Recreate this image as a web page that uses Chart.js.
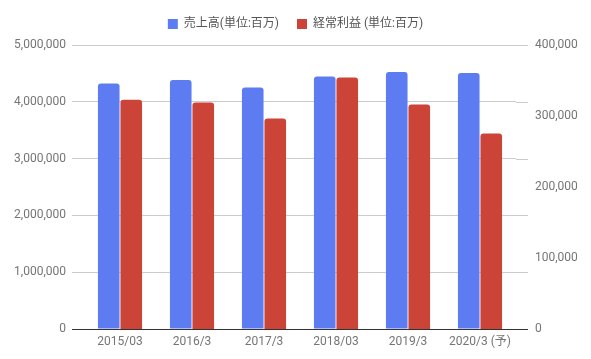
<!DOCTYPE html>
<html>
<head>
<meta charset="utf-8">
<script src="https://cdn.jsdelivr.net/npm/chart.js@4"></script>
<style>
  html, body { margin: 0; padding: 0; background: #fff; }
  #wrap { width: 591px; height: 359px; }
</style>
</head>
<body>
<div id="wrap"><canvas id="chart" width="591" height="359"></canvas></div>
<script>
// --- data ---
const categories = ['2015/03', '2016/3', '2017/3', '2018/03', '2019/3', '2020/3 (予)'];
const salesLabel = '売上高(単位:百万)';
const profitLabel = '経常利益 (単位:百万)';
const sales = [4320000, 4386000, 4250000, 4444000, 4526000, 4509000];
const profit = [322800, 319000, 296600, 354100, 316200, 275500];

const blue = '#5E7CF1';
const red = '#CC4338';
const gridGray = '#cccccc';
const baseDark = '#333333';
const textGray = '#757575';

Chart.defaults.font.family = 'Roboto, "Noto Sans CJK JP", sans-serif';
Chart.defaults.font.size = 12;
Chart.defaults.color = textGray;

// gridlines run a bit past the plot on the right, and the zero line sits on top of the bars
const gridExtras = {
    id: 'gridExtras',
    beforeDatasetsDraw(chart) {
        const { ctx, chartArea, scales } = chart;
        const y = scales.y;
        ctx.save();
        ctx.lineWidth = 1;
        ctx.strokeStyle = gridGray;
        y.ticks.forEach(t => {
            if (t.value === 0) return;
            const py = Math.round(y.getPixelForValue(t.value)) + 0.5;
            ctx.beginPath();
            ctx.moveTo(chartArea.right, py);
            ctx.lineTo(chartArea.right + 12, py);
            ctx.stroke();
        });
        ctx.restore();
    },
    afterDatasetsDraw(chart) {
        const { ctx, chartArea, scales } = chart;
        const py = Math.round(scales.y.getPixelForValue(0)) + 0.5;
        ctx.save();
        ctx.lineWidth = 1;
        ctx.strokeStyle = baseDark;
        ctx.beginPath();
        ctx.moveTo(chartArea.left - 12, py);
        ctx.lineTo(chartArea.right + 12, py);
        ctx.stroke();
        ctx.restore();
    }
};

const fmt = v => Number(v).toLocaleString('en-US');

new Chart(document.getElementById('chart'), {
    type: 'bar',
    data: {
        labels: categories,
        datasets: [
            {
                label: salesLabel,
                data: sales,
                backgroundColor: blue,
                yAxisID: 'y',
                borderRadius: 3,
                categoryPercentage: 0.625,
                barPercentage: 0.96
            },
            {
                label: profitLabel,
                data: profit,
                backgroundColor: red,
                yAxisID: 'y1',
                borderRadius: 3,
                categoryPercentage: 0.625,
                barPercentage: 0.96
            }
        ]
    },
    options: {
        responsive: false,
        animation: false,
        layout: { padding: 0 },
        plugins: {
            legend: {
                position: 'top',
                labels: {
                    boxWidth: 10,
                    boxHeight: 10,
                    padding: 18,
                    color: '#555555',
                    font: { size: 12 }
                }
            },
            tooltip: { enabled: false }
        },
        scales: {
            x: {
                grid: { display: false, drawTicks: false },
                border: { display: false },
                ticks: { padding: 6, color: textGray, maxRotation: 0 },
                afterFit: s => { s.height = 30; }
            },
            // empty strip above the plot so the top gridline sits below the legend
            xTop: {
                type: 'category',
                position: 'top',
                grid: { display: false, drawTicks: false },
                border: { display: false },
                ticks: { display: false },
                afterFit: s => { s.height = 5; }
            },
            y: {
                position: 'left',
                min: 0,
                max: 5000000,
                border: { display: false },
                grid: {
                    color: c => (c.tick && c.tick.value === 0) ? baseDark : gridGray,
                    tickLength: 12
                },
                ticks: { stepSize: 1000000, padding: 6, color: textGray, callback: fmt },
                afterFit: s => { s.width = 84; }
            },
            y1: {
                position: 'right',
                min: 0,
                max: 400000,
                border: { display: false },
                grid: { display: false, drawTicks: false },
                ticks: { stepSize: 100000, padding: 19, color: textGray, callback: fmt },
                afterFit: s => { s.width = 75; }
            }
        }
    },
    plugins: [gridExtras]
});
</script>
</body>
</html>
